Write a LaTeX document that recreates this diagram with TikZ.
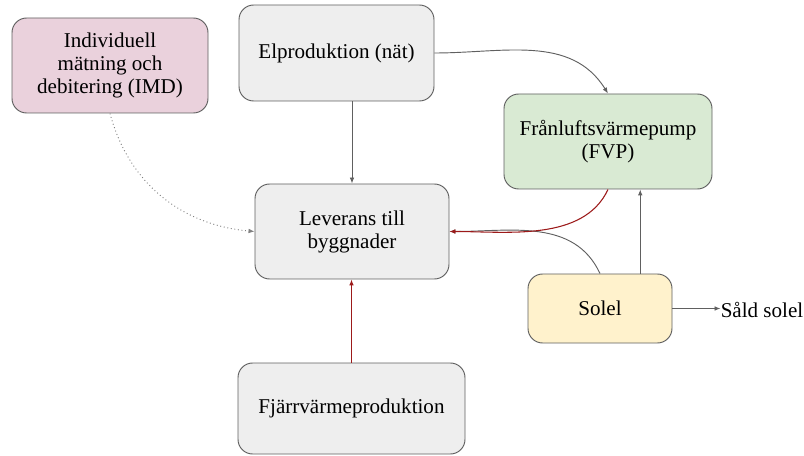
\documentclass[tikz,border=0pt]{standalone}
\usepackage{fontspec}
\setmainfont{Liberation Serif}
\newfontfamily\timesfont{Liberation Serif}
\usetikzlibrary{arrows.meta}
\definecolor{bordc}{HTML}{5F5F5F}
\definecolor{linec}{HTML}{606060}
\definecolor{redc}{HTML}{9C1A1A}
\definecolor{pinkf}{HTML}{EAD1DC}
\definecolor{grayf}{HTML}{EEEEEE}
\definecolor{greenf}{HTML}{D9EAD3}
\definecolor{yellowf}{HTML}{FFF2CC}
\tikzset{
  txt/.style={font=\timesfont\fontsize{15.8}{17.25}\selectfont},
  box/.style={txt, draw=bordc, line width=0.7pt, rounded corners=11pt, align=center, inner sep=2pt},
  conn/.style={draw=linec, line width=0.7pt, -{Latex[length=4.5pt,width=3.5pt]}},
  redconn/.style={draw=redc, line width=0.8pt, -{Latex[length=4.5pt,width=3.5pt]}},
  dotconn/.style={draw=linec!80, line width=0.7pt, dotted, -{Latex[length=4.5pt,width=3.5pt]}}
}
\begin{document}
\begin{tikzpicture}[x=0.75pt,y=-0.75pt]
\useasboundingbox (0,0) rectangle (804,456);
\node[box, fill=pinkf, minimum width=147pt, minimum height=71.25pt] (imd) at (110,65.5) {Individuell\\mätning och\\debitering (IMD)};
\node[box, fill=grayf, minimum width=146.25pt, minimum height=72pt] (el) at (336.5,53) {Elproduktion (nät)};
\node[box, fill=grayf, minimum width=145.5pt, minimum height=71.25pt] (lev) at (352,231.5) {Leverans till\\byggnader};
\node[box, fill=greenf, minimum width=156pt, minimum height=71.25pt] (fvp) at (608,141.5) {Frånluftsvärmepump\\(FVP)};
\node[box, fill=yellowf, minimum width=108pt, minimum height=51.75pt] (sol) at (600,308.5) {Solel};
\node[box, fill=grayf, minimum width=170.25pt, minimum height=68.25pt] (fj) at (351.5,408.5) {Fjärrvärmeproduktion};
\node[txt, anchor=west, inner sep=0pt] (sald) at (720.5,310) {Såld solel};

\draw[conn] (el.south -| lev.north) -- (lev.north);
\draw[dotconn] (imd.south) to[out=-75,in=175] (lev.west);
\draw[conn] (el.east) to[out=0,in=122] (fvp.north);
\draw[conn] (sol.north) to[out=115,in=0] (lev.east);
\draw[redconn] (fvp.south) to[out=-115,in=0, looseness=0.9] (lev.east);
\draw[conn] (sol.41) -- (sol.41 |- fvp.south);
\draw[conn] (sol.east) -- (sol.east -| sald.west);
\draw[redconn] (fj.north) -- (fj.north |- lev.south);
\end{tikzpicture}
\end{document}
